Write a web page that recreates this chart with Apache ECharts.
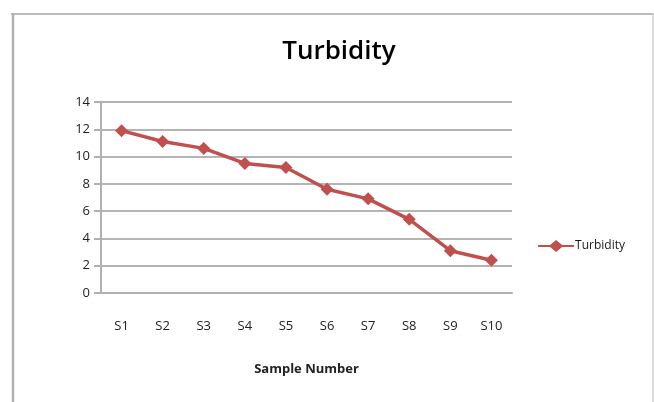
<!DOCTYPE html>
<html><head><meta charset="utf-8">
<script src="https://cdn.jsdelivr.net/npm/echarts@6/dist/echarts.min.js"></script>
<style>html,body{margin:0;padding:0;background:#fff}#c{width:654px;height:402px}</style>
</head><body><div id="c"></div>
<script>
const categories = ['S1','S2','S3','S4','S5','S6','S7','S8','S9','S10'];
const turbidity = [11.9, 11.1, 10.6, 9.5, 9.2, 7.6, 6.9, 5.4, 3.1, 2.4];
const seriesName = 'Turbidity';
const chartTitle = 'Turbidity';
const xAxisName = 'Sample Number';

const chart = echarts.init(document.getElementById('c'), null, {renderer:'canvas'});
const font = '"Open Sans", "Noto Sans", sans-serif';
chart.setOption({
  animation:false,
  backgroundColor:'#fff',
  graphic:[
    {type:'line', shape:{x1:11,y1:14,x2:654,y2:14}, style:{stroke:'#bdbdbd', lineWidth:2}},
    {type:'line', shape:{x1:13,y1:13,x2:13,y2:402}, style:{stroke:'#b0b0b0', lineWidth:2.5}},
    {type:'line', shape:{x1:653,y1:13,x2:653,y2:402}, style:{stroke:'#d0d0d0', lineWidth:1.5}}
  ],
  title:{text:chartTitle, left:334, top:34, textAlign:'center',
    textStyle:{fontFamily:font, fontSize:26, fontWeight:600, color:'#000'}},
  legend:{right:24, top:235, itemWidth:36, itemHeight:12, itemGap:0,
    textStyle:{fontFamily:font, fontSize:12, color:'#1a1a1a', padding:[0,0,0,-4]},
    data:[{name:seriesName, icon:'path://M0,5 L12,5 L18,0 L24,5 L36,5 L36,7 L24,7 L18,12 L12,7 L0,7 Z'}]},
  grid:{left:101, right:142, top:102, bottom:109},
  xAxis:{type:'category', data:categories, boundaryGap:true,
    name:xAxisName, nameLocation:'middle', nameGap:70,
    nameTextStyle:{fontFamily:font, fontSize:13, fontWeight:'bold', color:'#222'},
    axisLine:{lineStyle:{color:'#b0b0b0', width:2}}, axisTick:{show:false},
    axisLabel:{margin:27, fontFamily:font, fontSize:13, color:'#222'}},
  yAxis:{type:'value', min:0, max:14, interval:2,
    axisLine:{show:true, lineStyle:{color:'#b0b0b0', width:2}},
    axisTick:{show:true, length:7, lineStyle:{color:'#b0b0b0', width:2}},
    axisLabel:{margin:11, fontFamily:font, fontSize:13, color:'#222'},
    splitLine:{lineStyle:{color:'#b4b4b4', width:2}}},
  series:[{name:seriesName, type:'line', data:turbidity,
    symbol:'diamond', symbolSize:13,
    lineStyle:{color:'#c0504d', width:3.5},
    itemStyle:{color:'#c0504d'}}]
});
</script></body></html>
